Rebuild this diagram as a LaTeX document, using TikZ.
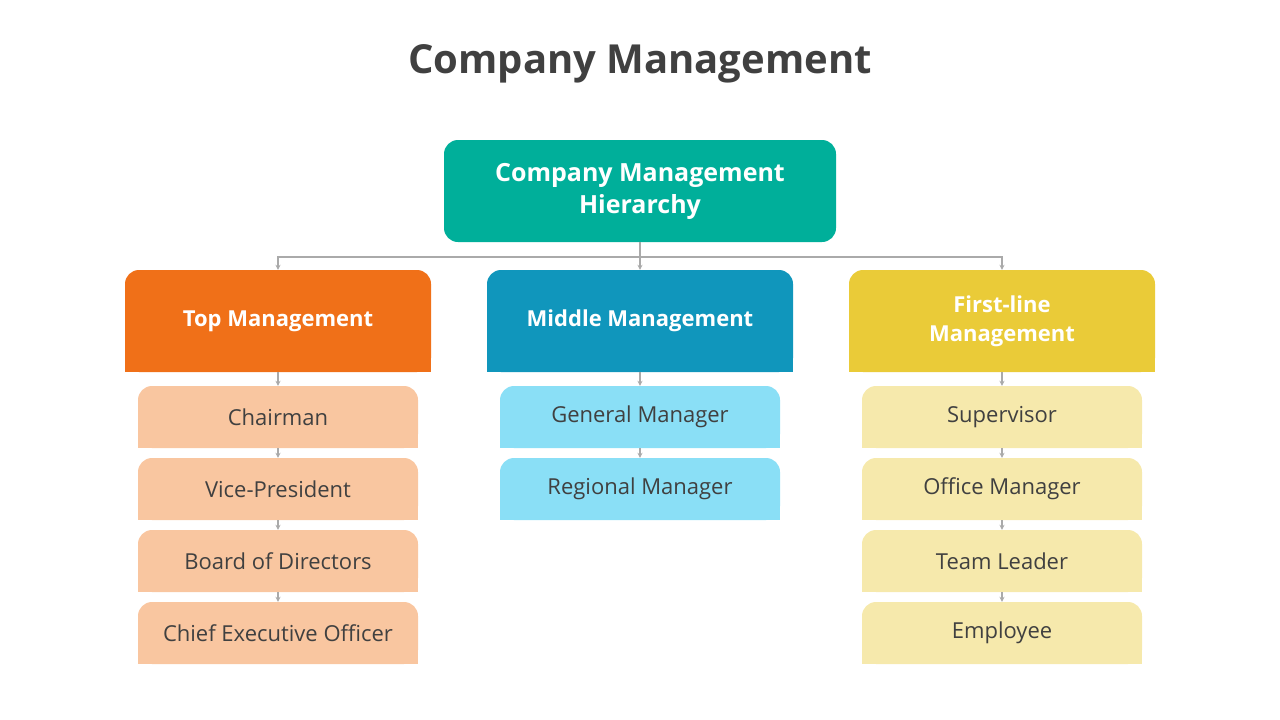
\documentclass[tikz,border=0pt]{standalone}
\usepackage{fontspec}
\setmainfont{Open Sans}
\usetikzlibrary{arrows.meta,positioning}
\definecolor{teal}{HTML}{00AF9A}
\definecolor{topc}{HTML}{F07018}
\definecolor{midc}{HTML}{1096BC}
\definecolor{firstc}{HTML}{EACB38}
\definecolor{topl}{HTML}{F9C6A0}
\definecolor{midl}{HTML}{8ADFF6}
\definecolor{firstl}{HTML}{F6E9AC}
\definecolor{ink}{HTML}{404040}
\definecolor{wire}{HTML}{AAAAAA}
\begin{document}
\begin{tikzpicture}[x=1pt,y=-1pt,>={Stealth[length=5pt,width=5pt]},
  every node/.style={inner sep=0pt},
  head/.style={rounded corners=14pt,minimum width=392pt,minimum height=102pt,fill=teal,text=white,font=\bfseries\fontsize{25}{32}\selectfont,align=center},
  group/.style={rounded corners=14pt,minimum width=306pt,minimum height=102pt,text=white,font=\bfseries\fontsize{22}{29}\selectfont,align=center},
  item/.style={rounded corners=14pt,minimum width=280pt,minimum height=62pt,text=ink,font=\fontsize{22}{26}\selectfont},
  link/.style={->,draw=wire,line width=1.2pt}]
\useasboundingbox (0,0) rectangle (1280,720);
\node[text=ink,font=\bfseries\fontsize{40}{48}\selectfont] (title) at (640,64) {Company Management};
\node[head] (hier) at (640,191) {Company Management\\Hierarchy};
% category boxes
\foreach \n/\x/\c/\t in {top/278/topc/Top Management,mid/640/midc/Middle Management,first/1002/firstc/First-line\\Management}{
  \node[group,fill=\c] (\n) at (\x,321) {};
  \fill[\c] (\n.south west) rectangle ([yshift=20pt]\n.south east);
  \node[group] at (\x,321) {\t};
}
% items
\foreach \n/\x/\c/\t [count=\i] in {t1/278/topl/Chairman,t2/278/topl/Vice-President,t3/278/topl/Board of Directors,t4/278/topl/Chief Executive Officer}{
  \node[item,fill=\c] (\n) at (\x,345+72*\i) {};
  \fill[\c] (\n.south west) rectangle ([yshift=-20pt]\n.north west -| \n.south);
  \fill[\c] (\n.south west) rectangle ([yshift=20pt]\n.south east);
  \node[item] at (\x,345+72*\i) {\t};
}
\foreach \n/\x/\c/\t [count=\i] in {m1/640/midl/General Manager,m2/640/midl/Regional Manager}{
  \node[item,fill=\c] (\n) at (\x,345+72*\i) {};
  \fill[\c] (\n.south west) rectangle ([yshift=-20pt]\n.north west -| \n.south);
  \fill[\c] (\n.south west) rectangle ([yshift=20pt]\n.south east);
  \node[item] at (\x,345+72*\i) {\t};
}
\foreach \n/\x/\c/\t [count=\i] in {f1/1002/firstl/Supervisor,f2/1002/firstl/Office Manager,f3/1002/firstl/Team Leader,f4/1002/firstl/Employee}{
  \node[item,fill=\c] (\n) at (\x,345+72*\i) {};
  \fill[\c] (\n.south west) rectangle ([yshift=-20pt]\n.north west -| \n.south);
  \fill[\c] (\n.south west) rectangle ([yshift=20pt]\n.south east);
  \node[item] at (\x,345+72*\i) {\t};
}
% connectors
\coordinate (bus) at (640,257);
\draw[draw=wire,line width=1.2pt] (hier.south) -- (bus);
\draw[link] (bus) -| (top.north);
\draw[link] (bus) -- (mid.north);
\draw[link] (bus) -| (first.north);
\foreach \a/\b in {top/t1,t1/t2,t2/t3,t3/t4,mid/m1,m1/m2,first/f1,f1/f2,f2/f3,f3/f4}
  \draw[link] (\a.south) -- (\b.north);
\end{tikzpicture}
\end{document}
